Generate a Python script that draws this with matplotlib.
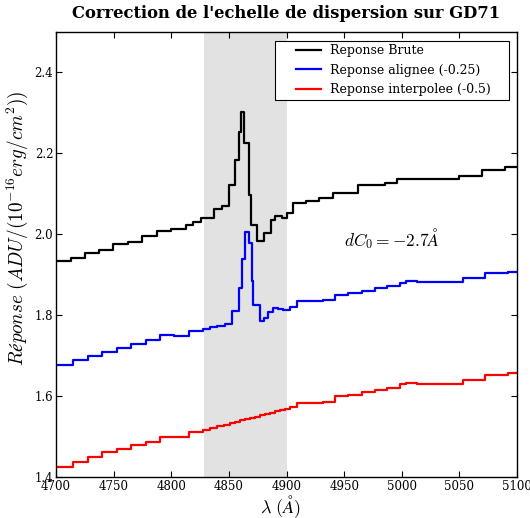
import matplotlib
matplotlib.use("Agg")
import matplotlib.pyplot as plt
from matplotlib.patches import Rectangle

# Step edges (Angstrom) and levels
brute_x = [4700, 4712.7, 4725.2, 4737.6, 4749.7, 4762.2, 4774.6, 4787.4, 4799.5,
           4812.5, 4818.6, 4825.5, 4837.1, 4843.8, 4850.4, 4855.6, 4858.5, 4860.5,
           4863.1, 4867.7, 4868.9, 4874.1, 4880.7, 4886.3, 4890.0, 4895.8, 4900.7,
           4906.0, 4916.9, 4928.5, 4940.1, 4962.3, 4985.5, 4995.6, 5011.5, 5049.9,
           5069.4, 5089.6]
brute_y = [1.933, 1.942, 1.954, 1.962, 1.975, 1.982, 1.995, 2.008, 2.012,
           2.022, 2.031, 2.041, 2.063, 2.071, 2.122, 2.183, 2.254, 2.302,
           2.226, 2.096, 2.022, 1.983, 2.004, 2.036, 2.045, 2.041, 2.053,
           2.078, 2.082, 2.090, 2.103, 2.122, 2.127, 2.136, 2.137, 2.144,
           2.160, 2.166]

aligned_x = [4700, 4715.0, 4727.5, 4740.2, 4752.6, 4765.0, 4777.8, 4790.2, 4802.4,
             4815.4, 4827.8, 4833.6, 4840.0, 4846.6, 4853.0, 4858.8, 4861.1, 4864.0,
             4867.2, 4869.8, 4871.2, 4877.0, 4880.5, 4884.2, 4888.6, 4892.9, 4897.3,
             4903.0, 4908.8, 4931.4, 4942.1, 4953.6, 4965.2, 4976.8, 4987.5, 4998.5,
             5003.4, 5013.0, 5052.9, 5072.3, 5091.9]
aligned_y = [1.676, 1.688, 1.700, 1.710, 1.719, 1.729, 1.739, 1.751, 1.748,
             1.762, 1.766, 1.771, 1.774, 1.778, 1.811, 1.867, 1.939, 2.005,
             1.979, 1.885, 1.826, 1.786, 1.793, 1.807, 1.818, 1.816, 1.812,
             1.820, 1.834, 1.837, 1.849, 1.855, 1.861, 1.866, 1.871, 1.880,
             1.884, 1.881, 1.892, 1.905, 1.907]

interp_x = [4700, 4715.0, 4727.5, 4740.2, 4752.6, 4765.0, 4777.8, 4790.2, 4802.4,
            4815.4, 4827.8, 4833.6, 4839.4, 4845.8, 4851.0, 4855.3, 4859.7, 4864.0,
            4868.3, 4872.7, 4877.0, 4881.3, 4885.7, 4890.0, 4894.4, 4898.7, 4903.0,
            4908.8, 4931.4, 4942.1, 4953.6, 4965.2, 4976.8, 4987.5, 4998.5, 5003.4,
            5013.0, 5052.9, 5072.3, 5091.9]
interp_y = [1.4255, 1.437, 1.4495, 1.461, 1.469, 1.479, 1.4875, 1.500, 1.498,
            1.512, 1.515, 1.5205, 1.5255, 1.5296, 1.5337, 1.537, 1.5404, 1.5437,
            1.547, 1.5494, 1.5528, 1.556, 1.5593, 1.5627, 1.5652, 1.5684, 1.5726,
            1.5825, 1.585, 1.599, 1.602, 1.610, 1.6155, 1.620, 1.630, 1.6335,
            1.630, 1.640, 1.653, 1.657]

region = (4828, 4900)
labels = ["Reponse Brute", "Reponse alignee (-0.25)", "Reponse interpolee (-0.5)"]

plt.rcParams['font.family'] = 'DejaVu Serif'
plt.rcParams['mathtext.fontset'] = 'cm'
plt.rcParams['xtick.direction'] = 'in'
plt.rcParams['ytick.direction'] = 'in'
plt.rcParams['xtick.top'] = True
plt.rcParams['ytick.right'] = True
plt.rcParams['xtick.major.size'] = 4
plt.rcParams['ytick.major.size'] = 4

fig = plt.figure(figsize=(5.3, 5.18), dpi=100)
ax = fig.add_axes([56/530, 1-477/518, (517-56)/530, (477-32)/518])

ax.axvspan(region[0], region[1], facecolor='0.885', edgecolor='none', zorder=0)

for xs, ys, c, lab in [(brute_x, brute_y, 'k', labels[0]),
                       (aligned_x, aligned_y, 'b', labels[1]),
                       (interp_x, interp_y, 'r', labels[2])]:
    ax.step(xs + [5100], ys + [ys[-1]], where='post', color=c, lw=1.6, label=lab)

ax.set_xlim(4700, 5100)
ax.set_ylim(1.4, 2.5)
ax.set_yticks([1.4, 1.6, 1.8, 2.0, 2.2, 2.4])
ax.tick_params(labelsize=8.5, pad=2)
for s in ax.spines.values():
    s.set_linewidth(1.0)

ax.text(4950, 1.99, r'$dC_0 = -2.7\AA$', fontsize=12.5, va='center')

ax.set_xlabel(r'$\lambda\ (\AA)$', fontsize=13)
ax.xaxis.set_label_coords(0.488, -0.036)
ax.set_ylabel(r"$Réponse\ (ADU/(10^{-16}erg/cm^2))$", fontsize=13.8)
ax.yaxis.set_label_coords(-0.056, 0.56)
ax.set_title("Correction de l'echelle de dispersion sur GD71", fontsize=11.8,
             fontweight='bold', pad=10)

# legend frame drawn as a box with wide side padding, as in the old style
ax.add_patch(Rectangle((0.475, 0.847), 0.5076, 0.1335, transform=ax.transAxes,
                       facecolor='white', edgecolor='k', lw=0.8, zorder=4))
leg = ax.legend(loc='upper left', bbox_to_anchor=(0.5206, 0.972), fontsize=9,
                frameon=False, borderpad=0, borderaxespad=0, handlelength=2.0,
                handletextpad=0.7, labelspacing=0.5)
leg.set_zorder(5)

fig.savefig('out.png', dpi=100, facecolor='white')
